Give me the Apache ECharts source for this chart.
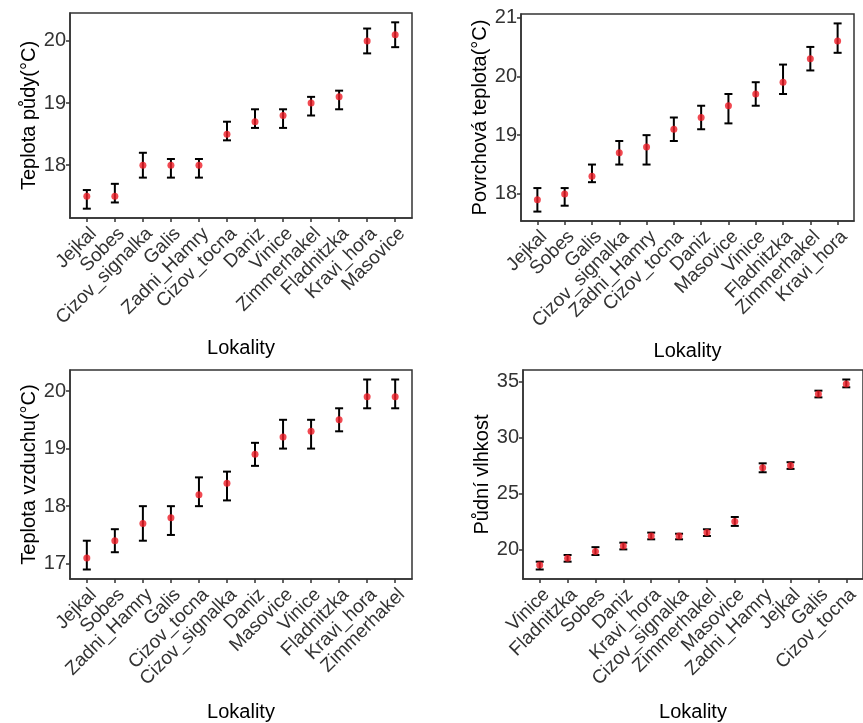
<!DOCTYPE html>
<html>
<head>
<meta charset="utf-8">
<script src="https://cdn.jsdelivr.net/npm/echarts@6/dist/echarts.min.js"></script>
<style>
html, body { margin: 0; padding: 0; background: #fff; }
#main { width: 863px; height: 723px; }
</style>
</head>
<body>
<div id="main"></div>
<script>
// panel 1 - teplota pudy
var cats1 = ['Jejkal', 'Sobes', 'Cizov_signalka', 'Galis', 'Zadni_Hamry', 'Cizov_tocna', 'Daniz', 'Vinice', 'Zimmerhakel', 'Fladnitzka', 'Kravi_hora', 'Masovice'];
var mean1 = [17.5, 17.5, 18.0, 18.0, 18.0, 18.5, 18.7, 18.8, 19.0, 19.1, 20.0, 20.1];
var low1 = [17.3, 17.4, 17.8, 17.8, 17.8, 18.4, 18.6, 18.6, 18.8, 18.9, 19.8, 19.9];
var up1 = [17.6, 17.7, 18.2, 18.1, 18.1, 18.7, 18.9, 18.9, 19.1, 19.2, 20.2, 20.3];
var ticks1 = [18, 19, 20];

// panel 2 - povrchova teplota
var cats2 = ['Jejkal', 'Sobes', 'Galis', 'Cizov_signalka', 'Zadni_Hamry', 'Cizov_tocna', 'Daniz', 'Masovice', 'Vinice', 'Fladnitzka', 'Zimmerhakel', 'Kravi_hora'];
var mean2 = [17.9, 18.0, 18.3, 18.7, 18.8, 19.1, 19.3, 19.5, 19.7, 19.9, 20.3, 20.6];
var low2 = [17.7, 17.8, 18.2, 18.5, 18.5, 18.9, 19.1, 19.2, 19.5, 19.7, 20.1, 20.4];
var up2 = [18.1, 18.1, 18.5, 18.9, 19.0, 19.3, 19.5, 19.7, 19.9, 20.2, 20.5, 20.9];
var ticks2 = [18, 19, 20, 21];

// panel 3 - teplota vzduchu
var cats3 = ['Jejkal', 'Sobes', 'Zadni_Hamry', 'Galis', 'Cizov_tocna', 'Cizov_signalka', 'Daniz', 'Masovice', 'Vinice', 'Fladnitzka', 'Kravi_hora', 'Zimmerhakel'];
var mean3 = [17.1, 17.4, 17.7, 17.8, 18.2, 18.4, 18.9, 19.2, 19.3, 19.5, 19.9, 19.9];
var low3 = [16.9, 17.2, 17.4, 17.5, 18.0, 18.1, 18.7, 19.0, 19.0, 19.3, 19.7, 19.7];
var up3 = [17.4, 17.6, 18.0, 18.0, 18.5, 18.6, 19.1, 19.5, 19.5, 19.7, 20.2, 20.2];
var ticks3 = [17, 18, 19, 20];

// panel 4 - pudni vlhkost
var cats4 = ['Vinice', 'Fladnitzka', 'Sobes', 'Daniz', 'Kravi_hora', 'Cizov_signalka', 'Zimmerhakel', 'Masovice', 'Zadni_Hamry', 'Jejkal', 'Galis', 'Cizov_tocna'];
var mean4 = [18.6, 19.2, 19.8, 20.3, 21.2, 21.2, 21.5, 22.5, 27.3, 27.5, 33.9, 34.8];
var low4 = [18.2, 18.9, 19.5, 20.0, 20.9, 20.9, 21.2, 22.1, 26.9, 27.2, 33.6, 34.5];
var up4 = [18.9, 19.5, 20.2, 20.6, 21.5, 21.4, 21.8, 22.9, 27.7, 27.8, 34.2, 35.2];
var ticks4 = [20, 25, 30, 35];

var panels = [
    { cats: cats1, mean: mean1, low: low1, up: up1, ticks: ticks1, yname: 'Teplota půdy(°C)', ygap: 23, xgap: 120, grid: { left: 70, top: 13, width: 342, height: 205 } },
    { cats: cats2, mean: mean2, low: low2, up: up2, ticks: ticks2, yname: 'Povrchová teplota(°C)', ygap: 28, xgap: 120, grid: { left: 521, top: 14, width: 333, height: 207 } },
    { cats: cats3, mean: mean3, low: low3, up: up3, ticks: ticks3, yname: 'Teplota vzduchu(°C)', ygap: 26, xgap: 123, grid: { left: 70, top: 370, width: 342, height: 213 } },
    { cats: cats4, mean: mean4, low: low4, up: up4, ticks: ticks4, yname: 'Půdní vlhkost', ygap: 27, xgap: 123, grid: { left: 523, top: 370, width: 345, height: 213 } }
];

var font = 'Liberation Sans, Arial, sans-serif';
var grids = [], xAxes = [], yAxes = [], series = [];

function errorBar(params, api) {
    var x = api.value(0);
    var pLo = api.coord([x, api.value(1)]);
    var pHi = api.coord([x, api.value(2)]);
    var hw = 4;
    var st = { stroke: '#000', lineWidth: 2 };
    return {
        type: 'group',
        children: [
            { type: 'line', shape: { x1: pLo[0], y1: pLo[1], x2: pHi[0], y2: pHi[1] }, style: st },
            { type: 'line', shape: { x1: pLo[0] - hw, y1: pLo[1], x2: pLo[0] + hw, y2: pLo[1] }, style: st },
            { type: 'line', shape: { x1: pHi[0] - hw, y1: pHi[1], x2: pHi[0] + hw, y2: pHi[1] }, style: st }
        ]
    };
}

panels.forEach(function (p, k) {
    var idx = p.cats.map(function (c, i) { return i + 1; });
    // ggplot style 5% expansion
    var lo = Math.min.apply(null, p.low), hi = Math.max.apply(null, p.up);
    var pad = (hi - lo) * 0.05;

    grids.push({
        left: p.grid.left, top: p.grid.top, width: p.grid.width, height: p.grid.height,
        show: true, borderColor: '#333', borderWidth: 1.5, backgroundColor: '#fff'
    });
    xAxes.push({
        type: 'value', gridIndex: k, min: 0.4, max: 12.6,
        name: 'Lokality', nameLocation: 'middle', nameGap: p.xgap,
        nameTextStyle: { color: '#000', fontSize: 20, fontFamily: font },
        axisLine: { show: true, onZero: false, lineStyle: { color: '#333', width: 1.5 } },
        axisTick: { show: true, length: 4, customValues: idx, lineStyle: { color: '#333', width: 1.5 } },
        axisLabel: {
            customValues: idx, rotate: 45, margin: 6, verticalAlign: 'top', align: 'right',
            color: '#333', fontSize: 19, fontFamily: font,
            formatter: function (v) { return p.cats[Math.round(v) - 1] || ''; }
        },
        splitLine: { show: false }
    });
    yAxes.push({
        type: 'value', gridIndex: k, min: lo - pad, max: hi + pad,
        name: p.yname, nameLocation: 'middle', nameGap: p.ygap, nameRotate: 90,
        nameTextStyle: { color: '#000', fontSize: 20, fontFamily: font },
        axisLine: { show: true, onZero: false, lineStyle: { color: '#333', width: 1.5 } },
        axisTick: { show: true, length: 4, customValues: p.ticks, lineStyle: { color: '#333', width: 1.5 } },
        axisLabel: { customValues: p.ticks, margin: 4, color: '#333', fontSize: 20, fontFamily: font },
        splitLine: { show: false }
    });
    series.push({
        type: 'custom', xAxisIndex: k, yAxisIndex: k,
        renderItem: errorBar,
        encode: { x: 0, y: [1, 2] },
        data: idx.map(function (x, i) { return [x, p.low[i], p.up[i]]; }),
        z: 2
    });
    series.push({
        type: 'scatter', xAxisIndex: k, yAxisIndex: k,
        symbolSize: 7,
        itemStyle: { color: '#ee1c25' },
        data: idx.map(function (x, i) { return [x, p.mean[i]]; }),
        z: 3
    });
});

var myChart = echarts.init(document.getElementById('main'));
myChart.setOption({
    backgroundColor: '#fff',
    animation: false,
    grid: grids,
    xAxis: xAxes,
    yAxis: yAxes,
    series: series
});
</script>
</body>
</html>
